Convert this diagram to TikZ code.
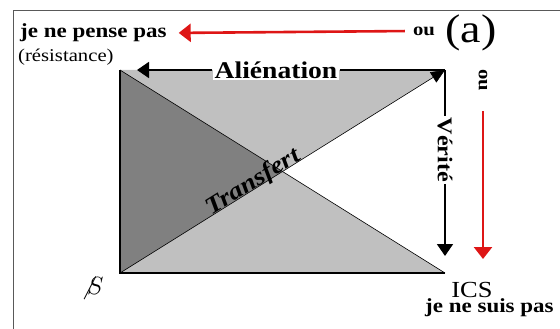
\documentclass[tikz,border=0pt]{standalone}
\usepackage{fontspec}
\setmainfont{Liberation Serif}[FakeStretch=1.15]
\usepackage{tikz}
\usetikzlibrary{arrows.meta}

\definecolor{darkshade}{RGB}{128,128,128}
\definecolor{lightshade}{RGB}{192,192,192}
\definecolor{redline}{RGB}{222,22,22}

\begin{document}
\begin{tikzpicture}[
			x=1pt, y=-1pt,
			every node/.style={inner sep=2pt},
			boldtext/.style={font=\fontsize{20}{22}\selectfont\bfseries},
			smalltext/.style={font=\fontsize{18}{20}\selectfont\bfseries},
			bigtext/.style={font=\fontsize{24}{26}\selectfont\bfseries, fill=white},
			edge/.style={line width=1.8pt},
			diag/.style={line width=0.6pt},
			arrow/.style={-{Triangle[length=12pt, width=16pt]}, line width=1.8pt},
			diagarrow/.style={-{Triangle[length=14pt, width=12pt]}, line width=0.6pt},
			redarrow/.style={-{Triangle[length=12pt, width=18pt]}, line width=2.6pt, redline}
			]
			\useasboundingbox (0,0) rectangle (560,329);
			
			% Frame
			\draw[line width=1pt, black!65] (13,340) -- (13,11) -- (570,11);
			
			% Corners
			\coordinate (tl) at (120,70);
			\coordinate (tr) at (445,70);
			\coordinate (bl) at (120,273);
			\coordinate (br) at (445,273);
			\coordinate (mid) at (282.5,171.5);
			\coordinate (vtip) at (445,256);
			\coordinate (redtip) at (483,259);
			
			% Shading
			\fill[lightshade] (tl) -- (tr) -- (mid) -- cycle;
			\fill[lightshade] (bl) -- (br) -- (mid) -- cycle;
			\fill[darkshade] (tl) -- (bl) -- (mid) -- cycle;
			\draw[diag] (tl) -- (br);
			\draw[diagarrow] (bl) -- (tr);
			\draw[edge] (tl) -- (bl) -- (br);
			
			% Nodes
			\node (pense) [boldtext, anchor=west] at (18,33) {je ne pense pas};
			\node (resist) [font=\fontsize{18}{20}\selectfont, anchor=west] at (16,57) {(résistance)};
			\node (ouh) [smalltext] at (424,31) {ou};
			\node (a) [font=\fontsize{40}{42}\selectfont] at (471,33) {(a)};
			\node (alien) [bigtext] at (276,70) {Aliénation};
			\node (verite) [bigtext, font=\fontsize{21}{23}\selectfont\bfseries, rotate=-90] at (445,150) {Vérité};
			\node (ouv) [smalltext, rotate=-90] at (483,80) {ou};
			\path (bl) -- (tr) node (transfert) [pos=0.42, sloped, anchor=base, inner sep=0pt,
				font=\fontsize{24}{26}\selectfont\bfseries\itshape] {Transfert};
			\node (barS) [font=\fontsize{34}{36}\selectfont] at (92,288) {$\not S$};
			\node (ics) [font=\fontsize{23}{25}\selectfont] at (472,290) {ICS};
			\node (suis) [boldtext, anchor=west] at (423,308) {je ne suis pas};
			
			% Connections
			\draw[edge] (tr) -- (alien.east);
			\draw[arrow, shorten >=17pt] (alien.west) -- (tl);
			\draw[edge] (tr) -- (verite.west);
			\draw[arrow] (verite.east) -- (vtip);
			\draw[redarrow, shorten <=6pt, shorten >=10pt] (ouh.west) -- (pense.east);
			\draw[redarrow, shorten <=18pt] (ouv.east) -- (redtip);
			
		\end{tikzpicture}
\end{document}
